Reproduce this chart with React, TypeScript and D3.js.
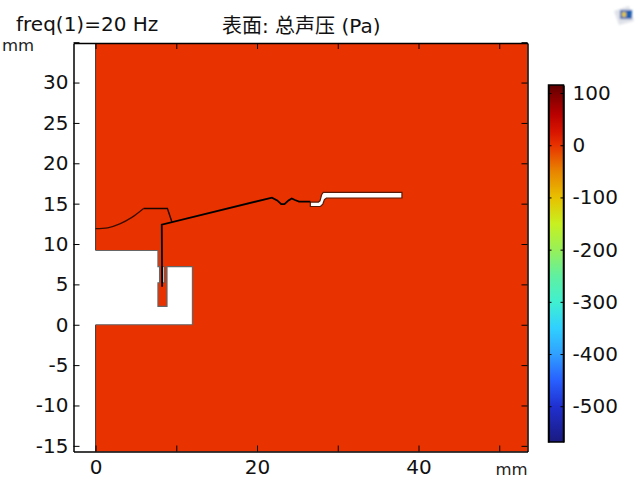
import React, { useEffect, useRef } from 'react';
import * as d3 from 'd3';

type Pt = [number, number];

const FONT = '"DejaVu Sans", "Noto Sans CJK SC", sans-serif';

// axis ticks (mm)
const xTicks = [0, 10, 20, 30, 40, 50];
const xTickLabels = ['0', '', '20', '', '40', ''];
const yTicks = [-15, -10, -5, 0, 5, 10, 15, 20, 25, 30, 35];

// colour bar
const barTicks = [-500, -400, -300, -200, -100, 0, 100];
const stopValues = [115, 100, 60, 25, 0, -50, -100, -150, -200, -250, -300, -350, -400, -450, -500, -568];
const stopColors = ['#5e0000', '#7a0000', '#b80000', '#d81500', '#e83200', '#e88400', '#e8c000', '#c8f020', '#98f058', '#60f0a0', '#40f0d0', '#30d0ff', '#30a0ff', '#2860ff', '#2030d0', '#1a1a80'];
const fieldValue = 0;

// geometry outlines, mm
const cavityEdge: Pt[] = [[0, 9.2], [7.73, 9.2], [7.73, 7.2], [7.93, 7.2], [7.93, 5.2], [7.73, 5.2], [7.73, 2.27], [8.85, 2.27], [8.85, 7.2], [12, 7.2], [12, 0], [0, 0]];
const cavityOverlap: Pt[] = [[-0.3, 0], [-0.3, 9.2]];
const slit: Pt[] = [[8.35, 7.2], [8.55, 7.2], [8.55, 5.2], [8.35, 5.2]];
const slot: Pt[] = [[26.6, 15.2], [27.6, 15.2], [27.8, 15.35], [28, 16.1], [28.2, 16.4], [37.95, 16.4], [37.95, 15.7], [28.6, 15.7], [28.35, 15.5], [28.15, 14.95], [27.85, 14.65], [26.6, 14.65]];
const membrane: Pt[] = [[8.25, 4.7], [8.2, 12.4], [21.85, 15.75], [22.5, 15.4], [23, 14.95], [23.4, 14.95], [23.9, 15.4], [24.3, 15.65], [24.7, 15.45], [25.2, 15.25], [26.6, 15.25]];
const dome: Pt[] = [[0, 11.9], [1.5, 12], [3, 12.5], [4.5, 13.3], [5.95, 14.4]];
const domeTop: Pt[] = [[5.95, 14.4], [8.9, 14.4], [9.45, 12.75]];

const x = d3.scaleLinear().domain([-2.73, 53.5]).range([73.5, 527.5]);
const y = d3.scaleLinear().domain([-15.7, 34.9]).range([451.5, 43]);
const barY = d3.scaleLinear().domain([-568.5, 115.4]).range([442, 85]);
const barColor = d3.scaleLinear<string>().domain(stopValues).range(stopColors);

const line = d3.line<Pt>().x(d => x(d[0])).y(d => y(d[1]));
const domeLine = d3.line<Pt>().x(d => x(d[0])).y(d => y(d[1])).curve(d3.curveCatmullRom);

const App: React.FC = () => {
  const axesRef = useRef<SVGGElement | null>(null);

  useEffect(() => {
    if (!axesRef.current) return;
    const g = d3.select(axesRef.current);
    g.selectAll('*').remove();

    const style = (sel: d3.Selection<SVGGElement, unknown, null, undefined>) => {
      sel.selectAll('.domain').attr('stroke', '#000').attr('stroke-width', 1.5);
      sel.selectAll('line').attr('stroke', '#000').attr('stroke-width', 1);
      sel.selectAll('text').attr('font-size', 20).attr('font-family', FONT).attr('fill', '#111');
    };

    const labelX = (d: d3.NumberValue) => xTickLabels[xTicks.indexOf(+d)];

    // frame: ticks point inwards on all four sides
    g.append('g').attr('transform', `translate(0,${y.range()[0]})`)
      .call(d3.axisBottom(x).tickValues(xTicks).tickFormat(labelX).tickSize(-6).tickSizeOuter(0).tickPadding(8))
      .call(style);
    g.append('g').attr('transform', `translate(0,${y.range()[1]})`)
      .call(d3.axisTop(x).tickValues(xTicks).tickFormat(() => '').tickSize(-6).tickSizeOuter(0))
      .call(style);
    g.append('g').attr('transform', `translate(${x.range()[0]},0)`)
      .call(d3.axisLeft(y).tickValues(yTicks).tickFormat(d => (+d === 35 ? '' : String(d))).tickSize(-6).tickSizeOuter(0).tickPadding(5))
      .call(style);
    g.append('g').attr('transform', `translate(${x.range()[1]},0)`)
      .call(d3.axisRight(y).tickValues(yTicks).tickFormat(() => '').tickSize(-6).tickSizeOuter(0))
      .call(style);

    // colour bar ticks
    g.append('g').attr('transform', 'translate(548.5,0)')
      .call(d3.axisLeft(barY).tickValues(barTicks).tickFormat(() => '').tickSize(-3).tickSizeOuter(0))
      .call(style);
    g.append('g').attr('transform', 'translate(563.5,0)')
      .call(d3.axisRight(barY).tickValues(barTicks).tickFormat(d => String(d)).tickSize(-3).tickSizeOuter(0).tickPadding(9))
      .call(style);
  }, []);

  const [barBottom, barTop] = barY.domain();
  const offset = d3.scaleLinear().domain([barTop, barBottom]).range([0, 100]);

  return (
    <svg width={640} height={480} style={{ position: 'absolute', left: 0, top: 0 }} fontFamily={FONT}>
      <defs>
        <linearGradient id="bar" x1="0" y1="0" x2="0" y2="1">
          {stopValues.map((v, i) => (
            <stop key={v} offset={`${offset(v)}%`} stopColor={stopColors[i]} />
          ))}
        </linearGradient>
        <filter id="soft" x="-30%" y="-30%" width="160%" height="160%">
          <feGaussianBlur stdDeviation="0.8" />
        </filter>
      </defs>

      <rect width={640} height={480} fill="#fff" />

      {/* surface */}
      <rect x={x(0)} y={y.range()[1]} width={x.range()[1] - x(0)} height={y.range()[0] - y.range()[1]} fill={barColor(fieldValue)} />
      <path d={line([[0, 34.9], [0, 9.2]]) ?? ''} stroke="#222" strokeWidth={0.8} />
      <path d={line([[0, 0], [0, -15.7]]) ?? ''} stroke="#222" strokeWidth={0.8} />

      {/* cavity is open towards the white strip on the left, so its left side gets no outline */}
      <path d={(line([...cavityEdge, ...cavityOverlap]) ?? '') + 'Z'} fill="#fff" />
      <path d={line(cavityEdge) ?? ''} fill="none" stroke="#666" strokeWidth={1.2} />
      <path d={(line(slit) ?? '') + 'Z'} fill="#fff" stroke="#444" strokeWidth={0.8} />
      <path d={(line(slot) ?? '') + 'Z'} fill="#fff" stroke="#5a1a08" strokeWidth={1.2} />
      <path d={domeLine(dome) ?? ''} fill="none" stroke="#3a0c00" strokeWidth={1.2} />
      <path d={line(domeTop) ?? ''} fill="none" stroke="#1a0500" strokeWidth={1.4} />
      <path d={line(membrane) ?? ''} fill="none" stroke="#000" strokeWidth={1.8} />

      {/* colour bar */}
      <rect x={548.5} y={barY.range()[1]} width={15} height={barY.range()[0] - barY.range()[1]} fill="url(#bar)" stroke="#000" strokeWidth={1.5} />

      <g ref={axesRef} />

      {/* titles */}
      <text x={16} y={31} fontSize={20} fill="#111">freq(1)=20 Hz</text>
      <text x={222} y={32.5} fontSize={20} fill="#111">表面: 总声压 (Pa)</text>
      <text x={2} y={51} fontSize={16.5} fill="#222">mm</text>
      <text x={495.5} y={475} fontSize={16.5} fill="#222">mm</text>

      {/* window icon */}
      <g filter="url(#soft)">
        <polygon points="614,11 629,6 634,21 619,25" fill="#dfe2e8" />
        <rect x={620} y={10} width={12} height={9} fill="#1f5fb0" />
        <rect x={622} y={12} width={4} height={5} fill="#e0c840" />
      </g>
    </svg>
  );
};

export default App;
